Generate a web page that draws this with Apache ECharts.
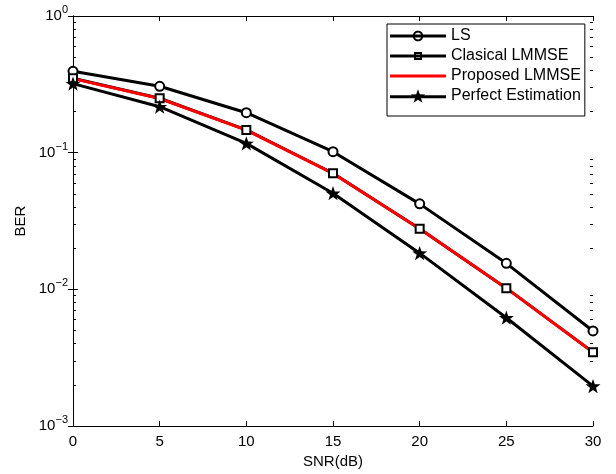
<!DOCTYPE html>
<html>
<head>
<meta charset="utf-8">
<script src="https://cdn.jsdelivr.net/npm/echarts@6/dist/echarts.min.js"></script>
<style>
  html, body { margin: 0; padding: 0; background: #fff; overflow: hidden; }
  #chart { width: 616px; height: 474px; }
</style>
</head>
<body>
<div id="chart"></div>
<script>
// SNR sweep (dB) and measured bit error rates
const snr = [0, 5, 10, 15, 20, 25, 30];
const berLS = [0.394, 0.306, 0.196, 0.1016, 0.0422, 0.0155, 0.00496];
const berClassical = [0.350, 0.250, 0.1466, 0.0707, 0.0278, 0.0102, 0.00347];
const berProposed = [0.348, 0.249, 0.1460, 0.0705, 0.0277, 0.0102, 0.00346];
const berPerfect = [0.320, 0.217, 0.117, 0.0505, 0.0184, 0.0062, 0.00196];

const seriesNames = ['LS', 'Clasical LMMSE', 'Proposed LMMSE', 'Perfect Estimation'];
const yMajorTicks = [0.001, 0.01, 0.1, 1];
const minorMultipliers = [2, 3, 4, 5, 6, 7, 8, 9];

// minor log ticks 2..9 inside each decade
const yMinorTicks = [];
yMajorTicks.slice(0, -1).forEach(function (d) {
  minorMultipliers.forEach(function (m) { yMinorTicks.push(+(d * m).toPrecision(3)); });
});

const FONT = '"Liberation Sans", Arial, Helvetica, sans-serif';

function polyPath(pts) {
  return pts.map(function (p, k) { return (k ? 'L' : 'M') + p[0].toFixed(2) + ',' + p[1].toFixed(2); }).join(' ') + ' Z ';
}
// five-pointed star outline centred on (cx, cy)
function starPath(cx, cy, ro, ri) {
  const pts = [];
  for (let k = 0; k < 10; k++) {
    const r = k % 2 === 0 ? ro : ri;
    const a = -Math.PI / 2 + k * Math.PI / 5;
    pts.push([cx + r * Math.cos(a), cy + r * Math.sin(a)]);
  }
  return polyPath(pts);
}
// circle outline as a polygon; dir = 1 clockwise, -1 counter-clockwise
function circlePath(cx, cy, r, dir) {
  const pts = [];
  for (let k = 0; k < 32; k++) {
    const a = dir * k * Math.PI / 16;
    pts.push([cx + r * Math.cos(a), cy + r * Math.sin(a)]);
  }
  return polyPath(pts);
}

const STAR = 'path://' + starPath(0, 0, 10, 4);

// legend samples: a 3px stroke with the marker drawn over its middle
const BAR = 'M0,5.5 H56 V8.5 H0 Z ';
const ICON_LS = 'path://' + BAR + circlePath(28, 7, 5.3, 1) + circlePath(28, 7, 3.4, -1);
const ICON_RECT = 'path://' + BAR + 'M24,3 H32 V11 H24 Z M26,5 V9 H30 V5 Z';
const ICON_LINE = 'path://' + BAR;
const ICON_STAR = 'path://' + BAR + starPath(28, 7, 7.5, 3);

const axisLine = { show: true, lineStyle: { color: '#000', width: 1 } };

function pairs(ys) { return snr.map(function (x, i) { return [x, ys[i]]; }); }

function minorTickAxis(side) {
  return {
    type: 'log', logBase: 10, min: 0.001, max: 1, position: side, offset: 0,
    axisLine: { show: false },
    axisTick: { inside: true, length: 3, customValues: yMinorTicks, lineStyle: { color: '#000', width: 1 } },
    axisLabel: { show: false },
    minorTick: { show: false },
    splitLine: { show: false }
  };
}

const chart = echarts.init(document.getElementById('chart'), null, { renderer: 'canvas' });

chart.setOption({
  backgroundColor: '#fff',
  animation: false,
  textStyle: { fontFamily: FONT },
  grid: { left: 73, right: 23, top: 16, bottom: 48, containLabel: false },
  legend: {
    orient: 'vertical',
    left: 387,
    top: 24,
    padding: [2, 4, 10, 3],
    itemGap: 0,
    itemWidth: 56,
    itemHeight: 14,
    symbolKeepAspect: true,
    borderColor: '#000',
    borderWidth: 1,
    backgroundColor: '#fff',
    itemStyle: { borderWidth: 0 },
    textStyle: { fontFamily: FONT, fontSize: 16, color: '#000', lineHeight: 20 },
    data: [
      { name: seriesNames[0], icon: ICON_LS },
      { name: seriesNames[1], icon: ICON_RECT },
      { name: seriesNames[2], icon: ICON_LINE },
      { name: seriesNames[3], icon: ICON_STAR }
    ]
  },
  xAxis: [
    {
      type: 'value', min: 0, max: 30, interval: 5, position: 'bottom',
      axisLine: axisLine,
      axisTick: { inside: true, length: 5, lineStyle: { color: '#000' } },
      axisLabel: { color: '#000', fontSize: 15, margin: 8, fontFamily: FONT },
      splitLine: { show: false },
      name: 'SNR(dB)', nameLocation: 'middle', nameGap: 28,
      nameTextStyle: { color: '#000', fontSize: 15, fontFamily: FONT }
    },
    {
      type: 'value', min: 0, max: 30, interval: 5, position: 'top',
      axisLine: axisLine,
      axisTick: { inside: true, length: 5, lineStyle: { color: '#000' } },
      axisLabel: { show: false },
      splitLine: { show: false }
    }
  ],
  yAxis: [
    {
      type: 'log', logBase: 10, min: 0.001, max: 1, position: 'left',
      axisLine: axisLine,
      axisTick: { inside: true, length: 5, lineStyle: { color: '#000' } },
      axisLabel: {
        margin: 5, color: '#000', fontFamily: FONT,
        formatter: function (v) {
          const e = Math.round(Math.log10(v));
          return '{b|10}{e|' + (e < 0 ? '\u2212' + (-e) : e) + '}';
        },
        rich: {
          b: { fontSize: 15, color: '#000', fontFamily: FONT },
          e: { fontSize: 11, color: '#000', fontFamily: FONT, padding: [0, 0, 12, 0] }
        }
      },
      splitLine: { show: false },
      name: 'BER', nameLocation: 'middle', nameGap: 41, nameRotate: 90,
      nameTextStyle: { color: '#000', fontSize: 15, fontFamily: FONT }
    },
    {
      type: 'log', logBase: 10, min: 0.001, max: 1, position: 'right',
      axisLine: axisLine,
      axisTick: { inside: true, length: 5, lineStyle: { color: '#000' } },
      axisLabel: { show: false },
      minorTick: { show: false },
      splitLine: { show: false }
    },
    minorTickAxis('left'),
    minorTickAxis('right')
  ],
  series: [
    {
      name: seriesNames[0], type: 'line', data: pairs(berLS),
      symbol: 'emptyCircle', symbolSize: 9,
      lineStyle: { color: '#000', width: 3 },
      itemStyle: { color: '#000', borderColor: '#000', borderWidth: 2.2 }
    },
    {
      name: seriesNames[1], type: 'line', data: pairs(berClassical),
      symbol: 'emptyRect', symbolSize: 8,
      lineStyle: { color: '#000', width: 3 },
      itemStyle: { color: '#000', borderColor: '#000', borderWidth: 2.5 }
    },
    {
      name: seriesNames[2], type: 'line', data: pairs(berProposed),
      symbol: 'none',
      lineStyle: { color: '#ff0000', width: 3 },
      itemStyle: { color: '#ff0000' }
    },
    {
      name: seriesNames[3], type: 'line', data: pairs(berPerfect),
      symbol: STAR, symbolSize: 15, symbolKeepAspect: true,
      lineStyle: { color: '#000', width: 3 },
      itemStyle: { color: '#000', borderColor: '#000', borderWidth: 0 }
    }
  ]
});
</script>
</body>
</html>
